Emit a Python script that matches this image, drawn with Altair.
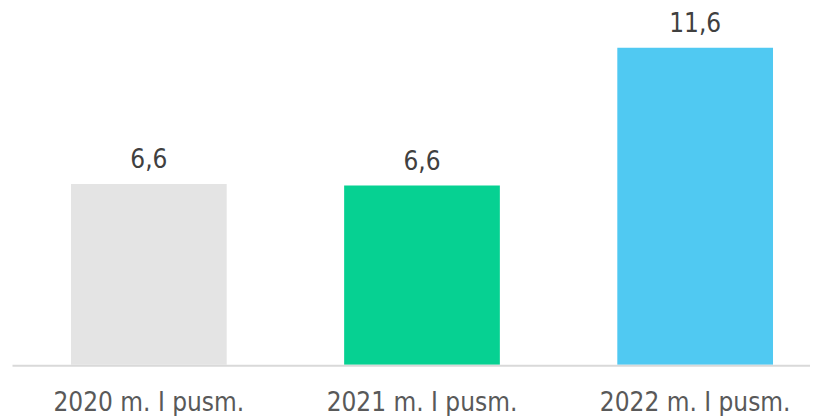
import altair as alt
import pandas as pd

categories = ["2020 m. I pusm.", "2021 m. I pusm.", "2022 m. I pusm."]
values = [6.62, 6.56, 11.6]
labels = ["6,6", "6,6", "11,6"]
colors = ["#e4e4e4", "#06d192", "#50c9f2"]

df = pd.DataFrame({"cat": categories, "val": values, "lab": labels, "col": colors})

FONT = "DejaVu Sans Condensed, Liberation Sans Narrow, DejaVu Sans"
W, H = 803, 357

x = alt.X("cat:N", sort=categories, title=None,
          scale=alt.Scale(paddingInner=0.43, paddingOuter=0.183, align=0.63),
          axis=alt.Axis(domain=False, ticks=False, labelAngle=0, labelFont=FONT,
                        labelFontSize=26, labelColor="#595959", labelPadding=46,
                        labelBaseline="alphabetic", labelLimit=0))
y = alt.Y("val:Q", scale=alt.Scale(domain=[0, 13.05], nice=False), axis=None)

base = alt.Chart(df)
bars = base.mark_bar().encode(x=x, y=y, color=alt.Color("col:N", scale=None))
text = base.mark_text(dy=-16, baseline="alphabetic", font=FONT, fontSize=26,
                      color="#404040").encode(x=x, y=y, text="lab:N")
rule = alt.Chart(pd.DataFrame({"v": [0]})).mark_rule(color="#d9d9d9", strokeWidth=2).encode(
    x=alt.value(4.5), x2=alt.value(W), y=alt.value(H + 1))

chart = (bars + rule + text).properties(width=W, height=H).configure(padding=0).configure_view(stroke=None)
chart.save("out.html", embed_options={"renderer": "svg", "actions": False})
